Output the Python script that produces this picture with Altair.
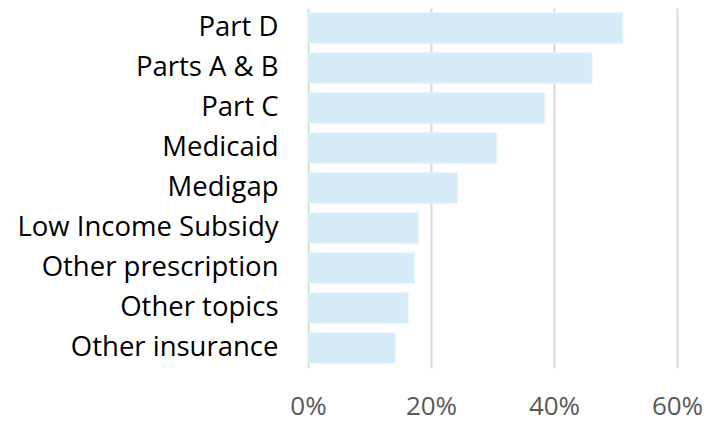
import altair as alt
import pandas as pd

categories = ["Part D", "Parts A & B", "Part C", "Medicaid", "Medigap",
              "Low Income Subsidy", "Other prescription", "Other topics", "Other insurance"]
values = [51.2, 46.2, 38.5, 30.7, 24.3, 18.0, 17.3, 16.3, 14.2]

df = pd.DataFrame({"cat": categories, "val": [v / 100 for v in values]})

chart = alt.Chart(df).mark_bar(color="#d5ecf8", stroke="#e6f4fb", strokeWidth=1).encode(
    x=alt.X("val:Q", scale=alt.Scale(domain=[0, 0.6], nice=False),
            axis=alt.Axis(format=".0%", values=[0, 0.2, 0.4, 0.6], title=None,
                          domain=False, ticks=False, grid=True, gridColor="#d9d9d9",
                          gridWidth=2, labelFont="Open Sans", labelFontSize=26,
                          labelColor="#595959", labelPadding=25, labelFlush=False)),
    y=alt.Y("cat:N", sort=categories,
            scale=alt.Scale(paddingInner=0.24, paddingOuter=0.12),
            axis=alt.Axis(title=None, domain=False, ticks=False, labelFont="Open Sans",
                          labelFontSize=27.5, labelColor="#000000", labelPadding=30,
                          labelLimit=400)),
).properties(
    width=369, height=360,
    autosize=alt.AutoSizeParams(type="none"),
    padding={"left": 300, "top": 0, "right": 30, "bottom": 53},
).configure_view(stroke=None)

chart.save("out.html", embed_options={"renderer": "svg", "actions": False})
